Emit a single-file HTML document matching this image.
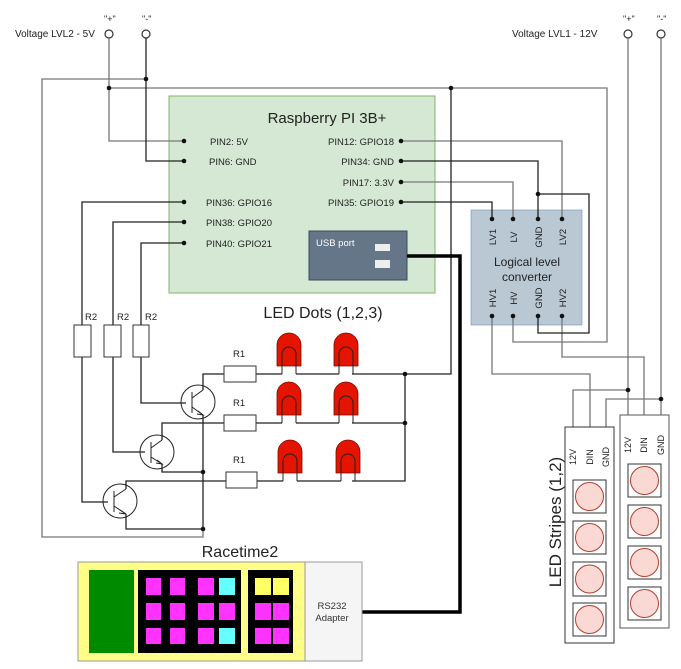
<!DOCTYPE html>
<html><head><meta charset="utf-8"><style>
body{margin:0;background:#fff}
svg{display:block;font-family:"Liberation Sans",sans-serif}
</style></head><body>
<svg width="681" height="669" viewBox="0 0 681 669" xmlns="http://www.w3.org/2000/svg">
<rect width="681" height="669" fill="#fff"/>
<!-- terminals -->
<g font-size="9" fill="#222">
<text x="15" y="37" font-size="10">Voltage LVL2 - 5V</text>
<text x="104" y="22">"+"</text><text x="142" y="22">"-"</text>
<text x="512" y="37" font-size="10">Voltage LVL1 - 12V</text>
<text x="623" y="22">"+"</text><text x="657" y="22">"-"</text>
</g>
<g fill="#fff" stroke="#333" stroke-width="1.2">
<circle cx="109" cy="34" r="4"/><circle cx="146" cy="34" r="4"/>
<circle cx="628" cy="34" r="4"/><circle cx="661" cy="34" r="4"/>
</g>
<!-- RPi -->
<rect x="169" y="96" width="266" height="197" fill="#d5e8d4" stroke="#82b366"/>
<text x="327" y="123" font-size="15" text-anchor="middle" fill="#222">Raspberry PI 3B+</text>
<g font-size="9.5" fill="#222">
<text x="210" y="145">PIN2: 5V</text>
<text x="209" y="165">PIN6: GND</text>
<text x="206" y="206">PIN36: GPIO16</text>
<text x="206" y="226">PIN38: GPIO20</text>
<text x="206" y="247">PIN40: GPIO21</text>
<g text-anchor="end">
<text x="394" y="145">PIN12: GPIO18</text>
<text x="394" y="165">PIN34:  GND</text>
<text x="394" y="186">PIN17:  3.3V</text>
<text x="394" y="206">PIN35:  GPIO19</text>
</g></g>
<rect x="309" y="231" width="98" height="49" fill="#647687" stroke="#3c4a5a"/>
<text x="316" y="246" font-size="9.5" fill="#fff">USB port</text>
<rect x="375" y="244" width="15" height="7" fill="#eee"/>
<rect x="375" y="260" width="15" height="8" fill="#eee"/>
<!-- converter -->
<rect x="471" y="210" width="111" height="115" fill="#bac8d3" stroke="#6c8ebf" stroke-opacity="0.6"/>
<g font-size="9.5" fill="#222">
<text transform="translate(496,237) rotate(-90)" text-anchor="middle">LV1</text>
<text transform="translate(517,237) rotate(-90)" text-anchor="middle">LV</text>
<text transform="translate(542,237) rotate(-90)" text-anchor="middle">GND</text>
<text transform="translate(566,237) rotate(-90)" text-anchor="middle">LV2</text>
<text transform="translate(496,298) rotate(-90)" text-anchor="middle">HV1</text>
<text transform="translate(517,298) rotate(-90)" text-anchor="middle">HV</text>
<text transform="translate(542,298) rotate(-90)" text-anchor="middle">GND</text>
<text transform="translate(566,298) rotate(-90)" text-anchor="middle">HV2</text>
</g>
<text x="527" y="266" font-size="12" text-anchor="middle" fill="#222">Logical level</text>
<text x="527" y="281" font-size="12" text-anchor="middle" fill="#222">converter</text>
<!-- wires -->
<g fill="none" stroke-width="1.3">
<g stroke="#777">
<polyline points="109,38 109,141 184,141"/>
<polyline points="109,88 607,88 607,342 513,342 513,316"/>
<polyline points="146,79 42,79 42,537 203,537 203,529"/>
<polyline points="401,141 562,141 562,219"/>
<polyline points="401,182 513,182 513,219"/>
<line x1="628" y1="38" x2="628" y2="423"/>
<line x1="661" y1="38" x2="661" y2="423"/>
<polyline points="628,390 573,390 573,436"/>
<polyline points="661,399 606,399 606,436"/>
<polyline points="492,316 492,374 590,374 590,436"/>
<polyline points="562,316 562,357 644,357 644,423"/>
</g>
<g stroke="#222">
<polyline points="146,38 146,161 184,161"/>
<polyline points="401,161 538,161 538,219"/>
<polyline points="538,194 589,194 589,333 538,333 538,316"/>
<polyline points="401,202 492,202 492,219"/>
<polyline points="184,202 82,202 82,325"/>
<polyline points="184,222 113,222 113,325"/>
<polyline points="184,243 141,243 141,325"/>
<polyline points="82,357 82,502 108,502"/>
<polyline points="113,357 113,452 145,452"/>
<polyline points="141,357 141,403 186,403"/>
<polyline points="451,88 451,374 405,374 405,481 352,481"/>
<line x1="405" y1="423" x2="352" y2="423"/>
<line x1="203" y1="415" x2="203" y2="529"/>
<polyline points="203,390 203,374 224,374"/>
<polyline points="162,440 162,423 224,423"/>
<polyline points="162,464 162,472 203,472"/>
<polyline points="126,489 126,481 226,481"/>
<polyline points="126,514 126,529 203,529"/>
<line x1="256" y1="374" x2="282" y2="374"/><line x1="296" y1="374" x2="339" y2="374"/><line x1="352" y1="374" x2="405" y2="374"/>
<line x1="256" y1="423" x2="282" y2="423"/><line x1="296" y1="423" x2="339" y2="423"/>
<line x1="257" y1="481" x2="283" y2="481"/><line x1="297" y1="481" x2="341" y2="481"/>
</g>
<polyline points="407,256 460,256 460,612 350,612" stroke="#000" stroke-width="3.5"/>
</g>
<!-- dots -->
<g fill="#111">
<circle cx="146" cy="79" r="2.3"/><circle cx="109" cy="88" r="2.3"/><circle cx="451" cy="88" r="2.3"/>
<circle cx="184" cy="141" r="2.3"/><circle cx="184" cy="161" r="2.3"/><circle cx="184" cy="202" r="2.3"/><circle cx="184" cy="222" r="2.3"/><circle cx="184" cy="243" r="2.3"/>
<circle cx="401" cy="141" r="2.3"/><circle cx="401" cy="161" r="2.3"/><circle cx="401" cy="182" r="2.3"/><circle cx="401" cy="202" r="2.3"/>
<circle cx="538" cy="194" r="2.3"/>
<circle cx="492" cy="219" r="2.3"/><circle cx="513" cy="219" r="2.3"/><circle cx="538" cy="219" r="2.3"/><circle cx="562" cy="219" r="2.3"/>
<circle cx="492" cy="316" r="2.3"/><circle cx="513" cy="316" r="2.3"/><circle cx="538" cy="316" r="2.3"/><circle cx="562" cy="316" r="2.3"/>
<circle cx="405" cy="374" r="2.3"/><circle cx="405" cy="423" r="2.3"/>
<circle cx="203" cy="472" r="2.3"/><circle cx="203" cy="529" r="2.3"/>
<circle cx="628" cy="390" r="2.3"/><circle cx="661" cy="399" r="2.3"/>
<circle cx="573" cy="436" r="2.3"/><circle cx="590" cy="436" r="2.3"/><circle cx="606" cy="436" r="2.3"/>
<circle cx="628" cy="423" r="2.3"/><circle cx="644" cy="423" r="2.3"/><circle cx="661" cy="423" r="2.3"/>
<circle cx="350" cy="612" r="2.3"/>
</g>
<!-- resistors -->
<g fill="#fff" stroke="#333" stroke-width="1">
<rect x="74" y="325" width="17" height="32"/><rect x="104" y="325" width="17" height="32"/><rect x="133" y="325" width="16" height="32"/>
<rect x="224" y="366" width="32" height="16"/><rect x="224" y="415" width="32" height="16"/><rect x="226" y="472" width="31" height="16"/>
</g>
<g font-size="9.5" fill="#222">
<text x="85" y="320">R2</text><text x="117" y="320">R2</text><text x="145" y="320">R2</text>
<text x="233" y="357">R1</text><text x="233" y="406">R1</text><text x="233" y="463">R1</text>
</g>
<text x="323" y="318" font-size="16" text-anchor="middle" fill="#222">LED Dots (1,2,3)</text>
<!-- transistors -->
<g fill="none" stroke="#222" stroke-width="1">
<circle cx="198" cy="402" r="17"/><line x1="192" y1="392" x2="192" y2="413"/><line x1="192" y1="398" x2="203" y2="390"/><line x1="192" y1="407" x2="203" y2="415"/><path d="M198,411 L203,415 L197,414" />
<circle cx="157" cy="452" r="17"/><line x1="151" y1="442" x2="151" y2="463"/><line x1="151" y1="448" x2="162" y2="440"/><line x1="151" y1="457" x2="162" y2="464"/><path d="M157,460 L162,464 L156,463"/>
<circle cx="120" cy="501" r="17"/><line x1="114" y1="491" x2="114" y2="512"/><line x1="114" y1="497" x2="126" y2="489"/><line x1="114" y1="506" x2="126" y2="514"/><path d="M120,510 L126,514 L119,513"/>
</g>
<!-- LEDs -->
<defs>
<g id="led">
<path d="M0,33 L0,12 A12,12 0 0 1 24,12 L24,33 Z" fill="#e51400" stroke="#7a0a00" stroke-width="0.8"/>
<path d="M5,41 L5,21 A7,7 0 0 1 19,21 L19,41" fill="none" stroke="#222" stroke-width="1"/>
</g>
</defs>
<use href="#led" x="277" y="333"/><use href="#led" x="334" y="333"/>
<use href="#led" x="277" y="382"/><use href="#led" x="334" y="382"/>
<use href="#led" x="278" y="440"/><use href="#led" x="336" y="440"/>
<!-- strips -->
<rect x="565" y="427" width="49" height="216" fill="#fff" stroke="#333"/>
<rect x="620" y="415" width="49" height="213" fill="#fff" stroke="#555"/>
<g font-size="9" fill="#222">
<text transform="translate(576,457) rotate(-90)" text-anchor="middle">12V</text>
<text transform="translate(593,457) rotate(-90)" text-anchor="middle">DIN</text>
<text transform="translate(609,457) rotate(-90)" text-anchor="middle">GND</text>
<text transform="translate(631,445) rotate(-90)" text-anchor="middle">12V</text>
<text transform="translate(647,445) rotate(-90)" text-anchor="middle">DIN</text>
<text transform="translate(664,445) rotate(-90)" text-anchor="middle">GND</text>
</g>
<text transform="translate(561,522) rotate(-90)" text-anchor="middle" font-size="17" fill="#222">LED Stripes (1,2)</text>
<g stroke-width="1">
<g fill="#fff" stroke="#333">
<rect x="573" y="480" width="33" height="33"/><rect x="573" y="521" width="33" height="33"/><rect x="573" y="562" width="33" height="34"/><rect x="573" y="603" width="33" height="33"/>
<rect x="628" y="464" width="33" height="33"/><rect x="628" y="505" width="33" height="33"/><rect x="628" y="546" width="33" height="33"/><rect x="628" y="587" width="33" height="33"/>
</g>
<g fill="#fad9d5" stroke="#ae4132">
<circle cx="589.5" cy="496.5" r="14"/><circle cx="589.5" cy="537.5" r="14"/><circle cx="589.5" cy="579" r="14"/><circle cx="589.5" cy="619.5" r="14"/>
<circle cx="644.5" cy="480.5" r="14"/><circle cx="644.5" cy="521.5" r="14"/><circle cx="644.5" cy="562.5" r="14"/><circle cx="644.5" cy="603.5" r="14"/>
</g></g>
<!-- Racetime -->
<text x="240" y="557" font-size="16" text-anchor="middle" fill="#222">Racetime2</text>
<rect x="78" y="562" width="227" height="99" fill="#ffff88" stroke="#999"/>
<rect x="305" y="562" width="57" height="99" fill="#f5f5f5" stroke="#999"/>
<text x="332" y="609" font-size="9.5" text-anchor="middle" fill="#333">RS232</text>
<text x="332" y="621" font-size="9.5" text-anchor="middle" fill="#333">Adapter</text>
<rect x="89" y="570" width="45" height="83" fill="#008a00"/>
<rect x="138" y="570" width="103" height="83" fill="#000"/>
<rect x="248" y="570" width="45" height="83" fill="#000"/>
<g fill="#ff33ff">
<rect x="146" y="578" width="15" height="17"/><rect x="170" y="578" width="15" height="17"/><rect x="198" y="578" width="16" height="17"/>
<rect x="146" y="603" width="15" height="17"/><rect x="170" y="603" width="15" height="17"/><rect x="198" y="603" width="16" height="17"/><rect x="219" y="603" width="16" height="17"/>
<rect x="146" y="628" width="15" height="16"/><rect x="170" y="628" width="15" height="16"/><rect x="198" y="628" width="16" height="16"/>
<rect x="255" y="603" width="16" height="17"/><rect x="273" y="603" width="16" height="17"/>
<rect x="255" y="628" width="16" height="16"/><rect x="273" y="628" width="16" height="16"/>
</g>
<g fill="#66ffff"><rect x="219" y="578" width="16" height="17"/><rect x="219" y="628" width="16" height="16"/></g>
<g fill="#ffff66"><rect x="255" y="578" width="16" height="17"/><rect x="273" y="578" width="16" height="17"/></g>
</svg>
</body></html>
